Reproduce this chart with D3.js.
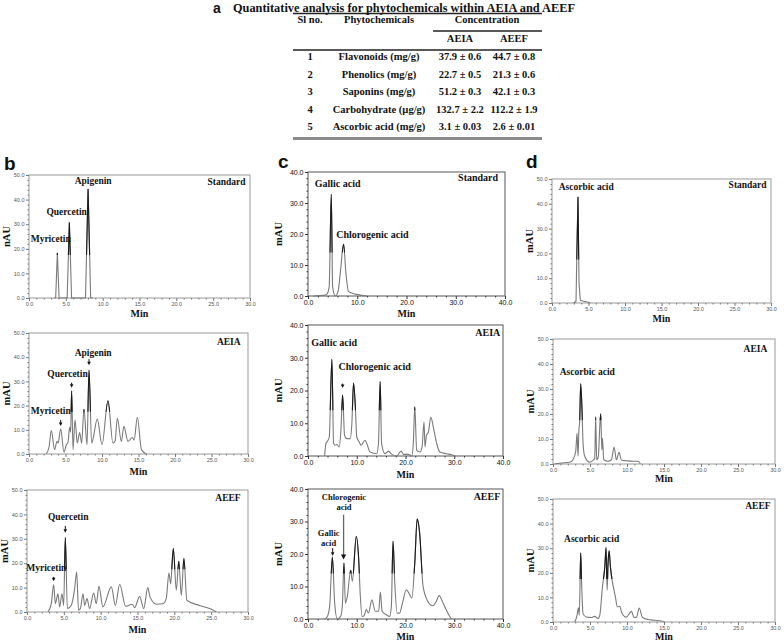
<!DOCTYPE html>
<html><head><meta charset="utf-8">
<script src="https://cdn.jsdelivr.net/npm/d3@7"></script>
<style>body{margin:0;background:#fff}</style>
</head><body>
<svg id="chart" width="784" height="643"></svg>
<script>
// ---------- Table data (panel a) ----------
const tableTitle = "Quantitative analysis for phytochemicals within AEIA and AEEF";
const slNo = ["1","2","3","4","5"];
const phytochemicals = ["Flavonoids (mg/g)","Phenolics (mg/g)","Saponins (mg/g)","Carbohydrate (µg/g)","Ascorbic acid (mg/g)"];
const concAEIA = ["37.9 ± 0.6","22.7 ± 0.5","51.2 ± 0.3","132.7 ± 2.2","3.1 ± 0.03"];
const concAEEF = ["44.7 ± 0.8","21.3 ± 0.6","42.1 ± 0.3","112.2 ± 1.9","2.6 ± 0.01"];

// ---------- Chromatogram traces [min, mAU] ----------
const bStdTrace = [[3.4,0],[3.62,0],[3.85,18.3],[4.08,0],[5.18,0],[5.48,30.7],[5.78,0],[7.67,0],[8.02,44.3],[8.37,0],[8.7,0]];
const bAeiaTrace = [[2.37,0],[2.75,3],[3.06,9.7],[3.5,1.8],[3.84,5.2],[4.0,4.6],[4.34,10.4],[4.79,0.7],[5.11,3.8],[5.34,4.8],[5.57,11.1],[5.7,9],[5.84,26.0],[6.03,1.8],[6.3,14.1],[6.62,4.5],[6.94,8.9],[7.21,4.5],[7.53,18.5],[7.95,3.8],[8.22,34.7],[8.58,4.5],[9.36,14.4],[10.0,3.8],[10.82,22.0],[11.5,4.5],[11.8,5.5],[12.1,14.8],[12.65,5.2],[13.0,11.4],[13.56,5.2],[14.15,6.8],[14.4,5.8],[14.84,15.2],[15.4,1.8],[16.1,0]];
const bAeefTrace = [[2.85,0],[3.3,3.4],[3.62,11.2],[3.85,3.4],[4.2,7.5],[4.43,2.1],[4.75,7.5],[4.98,2.7],[5.2,30.5],[5.48,1.4],[6.0,2.7],[6.47,9.6],[6.74,16.4],[7.0,0.7],[7.25,1.4],[7.6,7.5],[7.83,2.7],[8.14,5.5],[8.5,1.4],[9.05,7.8],[9.4,3.4],[9.77,10.5],[10.3,2.1],[11.45,10.3],[12.0,2.7],[12.58,11.4],[13.4,2.3],[14.3,3.2],[14.6,1.8],[15.3,6.4],[15.84,1.4],[16.4,10.0],[16.7,6.2],[17.55,3.2],[18.46,3.4],[18.9,5.5],[19.27,16.0],[19.5,11.6],[19.86,26.0],[20.27,8.9],[20.6,20.8],[20.95,6.8],[21.3,21.9],[21.7,4.8],[23.4,2.7],[24.8,1.4],[25.7,0]];

const cStdTrace = [[1.15,0],[3.2,0.2],[3.85,0.6],[4.3,3.0],[4.73,32.8],[5.0,3.0],[5.54,0],[6.1,1.4],[6.55,7.3],[7.23,16.7],[7.7,7.3],[8.24,1.4],[9.6,0.6],[10.9,0.2],[12.0,0]];
const cAeiaTrace = [[3.4,0],[3.68,3.8],[4.02,4.6],[4.36,5.8],[4.9,29.5],[5.25,3.8],[5.6,3.3],[5.93,3.5],[6.4,2.8],[6.75,7.9],[7.1,18.6],[7.5,6.3],[7.97,5.3],[8.65,5.3],[9.0,9.9],[9.34,22.3],[9.68,16.0],[10.0,5.8],[10.5,4.3],[10.9,3.3],[11.7,4.8],[12.06,3.8],[12.74,1.2],[14.1,0.7],[14.45,3.8],[14.8,22.7],[15.1,3.8],[15.8,0.7],[16.5,1.5],[17.2,0.5],[18.2,0],[19.1,1.5],[19.6,0.5],[20.6,0.5],[21.3,0],[21.6,3.8],[21.9,15.0],[22.3,1.7],[22.96,1.2],[23.4,2.8],[23.8,10.4],[24.0,2.8],[24.3,6.3],[24.7,7.3],[25.2,11.9],[25.7,8.9],[26.4,3.8],[27.05,1.2],[28.4,0.7],[29.4,0.4],[30.25,0]];
const cAeefTrace = [[3.4,0],[3.97,0.8],[4.44,3.9],[5.0,19.1],[5.47,4.9],[6.0,0],[6.7,0.8],[7.04,3.9],[7.38,17.2],[7.66,4.9],[8.07,7.0],[8.75,15.0],[9.1,11.6],[9.9,25.4],[10.4,18.3],[10.7,8.0],[11.1,0.8],[11.5,1.0],[11.97,2.9],[12.4,1.8],[13.1,5.9],[13.8,2.4],[14.5,2.4],[14.84,8.3],[15.2,2.4],[16.07,1.3],[16.75,0.8],[17.1,3.9],[17.44,23.9],[17.8,11.1],[18.3,1.8],[18.8,1.8],[19.3,4.4],[20.2,9.0],[20.85,7.5],[21.3,6.5],[21.9,17.2],[22.4,30.8],[22.9,26.5],[23.6,10.1],[24.6,5.4],[25.6,4.1],[26.3,5.4],[26.9,7.2],[27.7,4.9],[28.7,1.8],[29.4,0]];

const dStdTrace = [[2.97,0],[3.29,0.7],[3.42,22.2],[3.56,42.7],[3.7,8.1],[3.88,1.1],[4.34,0.7],[5.0,0.3],[5.25,0]];
const dAeiaTrace = [[0.2,0],[1.1,0.4],[2.26,0.7],[2.7,1.7],[3.07,5.1],[3.25,12.4],[3.38,3.1],[3.5,13.7],[3.6,16.4],[3.74,32.1],[3.92,21.7],[4.06,8.4],[4.28,3.1],[4.96,0.7],[5.41,1.5],[5.64,2.4],[5.77,18.8],[5.9,1.7],[6.13,3.1],[6.3,13.7],[6.45,20.1],[6.6,5.7],[6.68,10.4],[6.86,1.7],[7.44,1.1],[7.9,1.7],[8.25,6.8],[8.57,1.7],[8.93,4.7],[9.25,1.5],[9.9,1.3],[10.8,1.1],[11.5,1.1],[11.8,0]];
const dAeefTrace = [[2.93,0],[3.25,2.7],[3.43,5.8],[3.56,2.7],[3.74,28.1],[3.88,14.3],[4.06,3.4],[4.5,2.0],[5.19,1.8],[5.64,2.3],[6.09,1.4],[6.32,2.7],[6.68,14.3],[7.0,22.4],[7.17,30.3],[7.31,12.9],[7.44,23.8],[7.58,28.9],[7.76,22.4],[7.99,17.0],[8.25,12.9],[8.43,10.2],[8.7,6.1],[9.02,6.4],[9.25,4.1],[9.9,2.0],[10.6,4.3],[10.96,1.8],[11.3,2.0],[11.64,5.7],[12.1,1.8],[12.86,1.0],[13.76,0.7],[14.66,0.4],[15.1,0]];

// ---------- Annotations: [text, min, mAU, anchor] ----------
const bStdLabels = [["Myricetin",0.23,22.8,"start"],["Quercetin",2.36,33.7,"start"],["Apigenin",6.2,46.2,"start"],["Standard",29.4,45.9,"end"]];
const bAeiaLabels = [["Myricetin",0.23,16.4,"start"],["Quercetin",2.5,31.9,"start"],["Apigenin",6.25,40.5,"start"],["AEIA",29.0,45.2,"end"]];
const bAeefLabels = [["Myricetin",-0.1,16.7,"start"],["Quercetin",2.85,37.7,"start"],["AEEF",29.0,45.5,"end"]];
const cStdLabels = [["Gallic acid",1.35,35.2,"start"],["Chlorogenic acid",5.74,18.8,"start"],["Standard",38.6,37.0,"end"]];
const cAeiaLabels = [["Gallic acid",0.68,33.7,"start"],["Chlorogenic acid",6.27,26.4,"start"],["AEIA",39.45,36.7,"end"]];
const cAeefLabels = [["Chlorogenic",7.38,36.5,"middle"],["acid",7.38,33.6,"middle"],["Gallic",4.24,25.4,"middle"],["acid",4.24,22.6,"middle"],["AEEF",39.45,36.7,"end"]];
const dStdLabels = [["Ascorbic acid",0.91,45.7,"start"],["Standard",29.4,46.4,"end"]];
const dAeiaLabels = [["Ascorbic acid",0.9,35.7,"start"],["AEIA",28.96,44.8,"end"]];
const dAeefLabels = [["Ascorbic acid",1.49,32.6,"start"],["AEEF",29.4,45.8,"end"]];

// arrows: [min, fromValue, toValue]
const bAeiaArrows = [[8.22,39.2,36.7],[5.84,29.5,27.4],[4.34,14.1,11.6]];
const bAeefArrows = [[5.2,35.3,32.5],[3.62,14.4,12.6]];
const cAeiaArrows = [[7.1,22.1,20.8]];
const cAeefArrows = [[7.3,32.1,18.3],[5.06,21.8,19.5]];

// ---------- Layout ----------
const svg = d3.select("#chart");
const serif = "'Liberation Serif','Times New Roman',serif";
const sans = "'Liberation Sans',Arial,sans-serif";

// ---- Table ----
(function drawTable(){
  const g = svg.append("g").attr("font-family", serif).attr("font-weight","bold").attr("fill","#111");
  g.append("text").attr("x",213).attr("y",13).attr("font-family",sans).attr("font-size",14).text("a");
  g.append("text").attr("x",233).attr("y",12).attr("font-size",12.5)
    .attr("textLength",342).attr("lengthAdjust","spacingAndGlyphs").text(tableTitle);
  const L = 293, R = 542;
  g.append("line").attr("x1",L).attr("x2",R).attr("y1",13.5).attr("y2",13.5).attr("stroke","#222").attr("stroke-width",1.3);
  g.append("line").attr("x1",433).attr("x2",R).attr("y1",31).attr("y2",31).attr("stroke","#222").attr("stroke-width",1.3);
  g.append("line").attr("x1",L).attr("x2",R).attr("y1",50).attr("y2",50).attr("stroke","#222").attr("stroke-width",1.3);
  g.append("line").attr("x1",L).attr("x2",R).attr("y1",138.5).attr("y2",138.5).attr("stroke","#8a8a8a").attr("stroke-width",3);
  const cols = [310, 379, 460, 514];
  const fs = 10.5;
  g.append("text").attr("x",cols[0]).attr("y",23).attr("text-anchor","middle").attr("font-size",fs).text("Sl no.");
  g.append("text").attr("x",cols[1]).attr("y",23).attr("text-anchor","middle").attr("font-size",fs).text("Phytochemicals");
  g.append("text").attr("x",487).attr("y",23).attr("text-anchor","middle").attr("font-size",fs).text("Concentration");
  g.append("text").attr("x",cols[2]).attr("y",42).attr("text-anchor","middle").attr("font-size",fs).text("AEIA");
  g.append("text").attr("x",cols[3]).attr("y",42).attr("text-anchor","middle").attr("font-size",fs).text("AEEF");
  const rowY = d3.scaleLinear().domain([0,4]).range([60,130]);
  slNo.forEach((s,i)=>{
    const yy = rowY(i);
    [s, phytochemicals[i], concAEIA[i], concAEEF[i]].forEach((t,j)=>{
      g.append("text").attr("x",cols[j]).attr("y",yy).attr("text-anchor","middle").attr("font-size",fs).text(t);
    });
  });
})();

// ---- Panel letters ----
[["b",4,170],["c",278,168],["d",526,168]].forEach(([t,x,y])=>{
  svg.append("text").attr("x",x).attr("y",y).attr("font-family",sans).attr("font-weight","bold").attr("font-size",19).attr("fill","#111").text(t);
});

const panels = [
  {trace:bStdTrace, labels:bStdLabels, arrows:[], box:[29,175,250,298], xMax:30, xStep:5, yMax:50, kind:"b", yTitle:"nAU", minY:317, linear:true},
  {trace:bAeiaTrace, labels:bAeiaLabels, arrows:bAeiaArrows, box:[29,333,248,454], xMax:30, xStep:5, yMax:50, kind:"b", yTitle:"mAU", minY:475},
  {trace:bAeefTrace, labels:bAeefLabels, arrows:bAeefArrows, box:[27,490,248,612], xMax:30, xStep:5, yMax:50, kind:"b", yTitle:"mAU", minY:633},
  {trace:cStdTrace, labels:cStdLabels, arrows:[], box:[308,172,505,296], xMax:40, xStep:10, yMax:40, kind:"c", yTitle:"mAU", minY:317},
  {trace:cAeiaTrace, labels:cAeiaLabels, arrows:cAeiaArrows, box:[308,325,503,456], xMax:40, xStep:10, yMax:40, kind:"c", yTitle:"mAU", minY:478},
  {trace:cAeefTrace, labels:cAeefLabels, arrows:cAeefArrows, box:[308,489,503,619], xMax:40, xStep:10, yMax:40, kind:"c", yTitle:"mAU", minY:640, smallLabels:true},
  {trace:dStdTrace, labels:dStdLabels, arrows:[], box:[552,179,771,303], xMax:30, xStep:5, yMax:50, kind:"b", yTitle:"mAU", minY:322, linear:true},
  {trace:dAeiaTrace, labels:dAeiaLabels, arrows:[], box:[553,339,775,464], xMax:30, xStep:5, yMax:50, kind:"b", yTitle:"mAU", minY:482},
  {trace:dAeefTrace, labels:dAeefLabels, arrows:[], box:[553,499,775,622], xMax:30, xStep:5, yMax:50, kind:"b", yTitle:"mAU", minY:640}
];

panels.forEach(p=>{
  const [l,t,r,b] = p.box;
  const x = d3.scaleLinear().domain([0,p.xMax]).range([l,r]);
  const y = d3.scaleLinear().domain([0,p.yMax]).range([b,t]);
  const g = svg.append("g");
  const isC = p.kind === "c";
  const frameCol = isC ? "#555" : "#9a9a9a";
  const tickCol = isC ? "#333" : "#777";
  const tickFont = isC ? 7 : 5.5;
  const tickFill = isC ? "#111" : "#555";

  g.append("rect").attr("x",l).attr("y",t).attr("width",r-l).attr("height",b-t)
    .attr("fill","none").attr("stroke",frameCol).attr("stroke-width",1);

  const fmt = d3.format(".1f");
  const xMajor = d3.range(0, p.xMax+0.001, p.xStep);
  const yMajor = d3.range(0, p.yMax+0.001, 10);
  const xMinor = d3.range(0, p.xMax+0.001, isC ? 2 : 1).filter(v=>!xMajor.includes(v));
  const yMinor = d3.range(0, p.yMax+0.001, 2).filter(v=>!yMajor.includes(v));

  function styleAxis(sel){
    sel.select(".domain").remove();
    sel.selectAll("line").attr("stroke",tickCol);
    sel.selectAll("text").attr("font-family", sans).attr("font-size",tickFont).attr("fill",tickFill);
  }
  g.append("g").attr("transform",`translate(0,${b})`)
    .call(d3.axisBottom(x).tickValues(xMajor).tickFormat(fmt).tickSize(3).tickPadding(1.5)).call(styleAxis);
  g.append("g").attr("transform",`translate(0,${b})`)
    .call(d3.axisBottom(x).tickValues(xMinor).tickFormat("").tickSize(1.5)).call(styleAxis);
  g.append("g").attr("transform",`translate(${l},0)`)
    .call(d3.axisLeft(y).tickValues(yMajor).tickFormat(fmt).tickSize(3).tickPadding(1.5)).call(styleAxis);
  g.append("g").attr("transform",`translate(${l},0)`)
    .call(d3.axisLeft(y).tickValues(yMinor).tickFormat("").tickSize(1.5)).call(styleAxis);

  // trace
  const line = d3.line().x(d=>x(d[0])).y(d=>y(d[1])).curve(p.linear ? d3.curveLinear : d3.curveMonotoneX);
  g.append("path").datum(p.trace).attr("d",line).attr("fill","none")
    .attr("stroke","#7a7a7a").attr("stroke-width",1.1).attr("stroke-linejoin","round");
  // darker peak tips
  const clipId = "clip" + Math.round(l) + "_" + Math.round(t);
  const tipLevel = p.yMax * 0.35;
  g.append("clipPath").attr("id",clipId).append("rect").attr("x",l).attr("y",t).attr("width",r-l).attr("height",y(tipLevel)-t);
  g.append("path").datum(p.trace).attr("d",line).attr("fill","none")
    .attr("stroke","#1a1a1a").attr("stroke-width",1.1).attr("clip-path",`url(#${clipId})`);

  // labels
  p.labels.forEach(([txt,mx,my,anchor])=>{
    const isTag = anchor === "end";
    g.append("text").attr("x",x(mx)).attr("y",y(my)).attr("text-anchor",anchor)
      .attr("font-family",serif).attr("font-weight","bold")
      .attr("font-size", p.smallLabels && !isTag ? 8.5 : (isC ? 10 : 9.5))
      .attr("fill","#111").text(txt);
  });
  // arrows
  p.arrows.forEach(([mx,y1,y2])=>{
    const ax = x(mx), a1 = y(y1), a2 = y(y2);
    const big = (a2 - a1) > 20;
    const hw = big ? 2.6 : 1.8, hl = big ? 5 : 3.5;
    g.append("line").attr("x1",ax).attr("x2",ax).attr("y1",a1).attr("y2",a2-hl+0.5)
      .attr("stroke",big?"#666":"#111").attr("stroke-width",big?1.3:1);
    g.append("path").attr("d",`M${ax-hw},${a2-hl}L${ax+hw},${a2-hl}L${ax},${a2}Z`).attr("fill","#111");
  });

  // axis titles
  g.append("text").attr("transform",`translate(${l-(isC?26:19)},${(t+b)/2}) rotate(-90)`)
    .attr("text-anchor","middle").attr("font-family",serif).attr("font-weight","bold")
    .attr("font-size",10.5).attr("fill","#111").text(p.yTitle);
  g.append("text").attr("x",(l+r)/2).attr("y",p.minY).attr("text-anchor","middle")
    .attr("font-family",serif).attr("font-weight","bold").attr("font-size",10).attr("fill","#111").text("Min");
});
</script>
</body></html>
